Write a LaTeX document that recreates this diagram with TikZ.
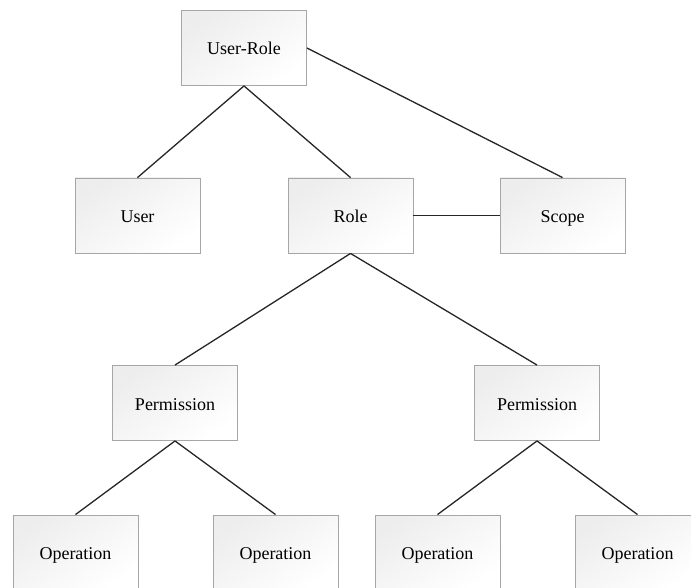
\documentclass[tikz,border=0pt]{standalone}
\usepackage{fontspec}
\setmainfont{Liberation Serif}
\begin{document}
\begin{tikzpicture}[x=1pt,y=-1pt,
  box/.style={rectangle, draw=black!35, line width=0.9pt,
    top color=black!7, bottom color=white, shading angle=35,
    minimum width=125pt, minimum height=75pt, inner sep=0pt,
    text height=16pt, text depth=2pt,
    font=\fontsize{18}{20}\selectfont},
  link/.style={draw=black!85, line width=1.3pt}]
\useasboundingbox (0,0) rectangle (691,588);
\clip (0,0) rectangle (691,588);
\node[box] (ur) at (244,48) {User-Role};
\node[box] (user) at (137.5,215.5) {User};
\node[box] (role) at (350.5,215.5) {Role};
\node[box] (scope) at (562.5,215.5) {Scope};
\node[box] (pl) at (175,403) {Permission};
\node[box] (pr) at (537,403) {Permission};
\node[box] (o1) at (75.5,552.5) {Operation};
\node[box] (o2) at (275.5,552.5) {Operation};
\node[box] (o3) at (437.5,552.5) {Operation};
\node[box] (o4) at (637.5,552.5) {Operation};
\draw[link] (ur.south) -- (user.north);
\draw[link] (ur.south) -- (role.north);
\draw[link] (ur.east) -- (scope.north);
\draw[link] (role.east) -- (scope.west);
\draw[link] (role.south) -- (pl.north);
\draw[link] (role.south) -- (pr.north);
\draw[link] (pl.south) -- (o1.north);
\draw[link] (pl.south) -- (o2.north);
\draw[link] (pr.south) -- (o3.north);
\draw[link] (pr.south) -- (o4.north);
\end{tikzpicture}
\end{document}
